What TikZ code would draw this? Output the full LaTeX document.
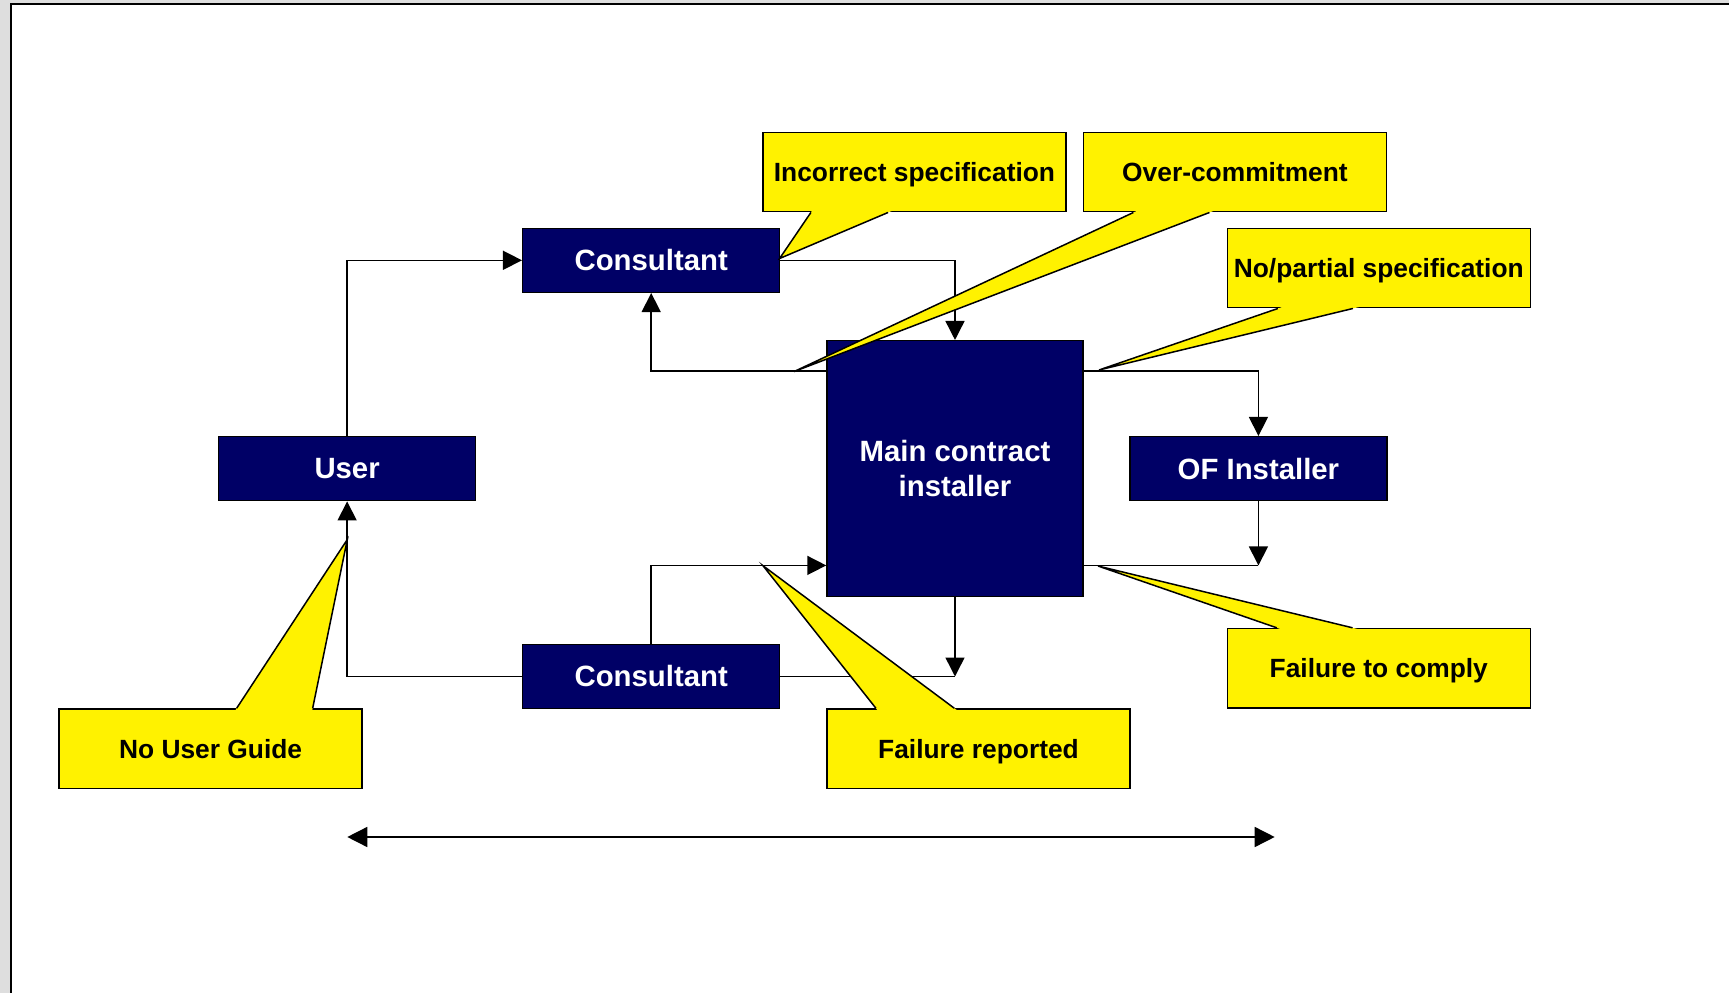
\documentclass[tikz,border=0pt]{standalone}
\usepackage{fontspec}
\setmainfont{Liberation Sans}
\usetikzlibrary{arrows.meta,positioning,calc}

\definecolor{navy}{HTML}{000066}
\definecolor{pagegray}{HTML}{DEDEDE}

\tikzset{
  actor/.style={draw=black, fill=navy, text=white, line width=0.03cm,
    font=\bfseries\fontsize{16.7}{20}\selectfont, align=center,
    minimum width=5.14cm, minimum height=1.28cm, inner sep=0pt},
  note/.style={draw=black, fill=yellow, text=black, line width=0.03cm,
    font=\bfseries\fontsize{15}{18}\selectfont, text depth=0pt,
    minimum width=6.06cm, minimum height=1.59cm, inner sep=0pt},
  flow/.style={-{Triangle[length=0.38cm,width=0.38cm]}, line width=0.03cm},
  link/.style={line width=0.03cm},
  span/.style={{Triangle[length=0.4cm,width=0.4cm]}-{Triangle[length=0.4cm,width=0.4cm]}, line width=0.03cm}
}

% yellow pointer of a note: base point, base point, tip
\newcommand{\pointer}[3]{%
  \fill[yellow] ($(#1)!-0.06!(#3)$) -- (#3) -- ($(#2)!-0.06!(#3)$) -- cycle;
  \draw[link] (#1) -- (#3) -- (#2);}

\begin{document}
\begin{tikzpicture}[x=0.02cm, y=-0.02cm]
	% page
	\fill[pagegray] (0,0) rectangle (1729,993);
	\useasboundingbox (0,0) rectangle (1729,993);
	\filldraw[fill=white, draw=black, line width=0.04cm] (11,4.3) rectangle (1780,1030);

	% the parties
	\node[actor, minimum width=5.12cm, minimum height=5.12cm] (main) at (955,468.7) {Main contract\\installer};
	\node[actor] (consTop) at (651.2,260.3) {Consultant};
	\node[actor] (consBot) at (651.2,676.5) {Consultant};
	\node[actor, left=7.0cm of main] (user) {User};
	\node[actor, right=0.91cm of main] (ofInst) {OF Installer};

	% points on the sides of the main box
	\coordinate (mainTL) at ($(main.north west)+(0,31)$);
	\coordinate (mainTR) at ($(main.north east)+(0,31)$);
	\coordinate (mainBL) at ($(main.south west)+(0,-32)$);
	\coordinate (mainBR) at ($(main.south east)+(0,-32)$);

	% flows between the parties
	\draw[flow] (user.north) |- (consTop.west);
	\draw[flow] (consTop.east) -| (main.north);
	\draw[flow] (mainTL) -| (consTop.south);
	\draw[flow] (mainTR) -| (ofInst.north);
	\draw[flow] (ofInst.south) -- (ofInst.south |- mainBR);
	\draw[link] (mainBR) -- (ofInst.south |- mainBR);
	\draw[flow] (consBot.north) |- (mainBL);
	\draw[flow] (main.south) -- (main.south |- consBot.east);
	\draw[link] (consBot.east) -- (main.south |- consBot.east);
	\draw[flow] (consBot.west) -| (user.south);

	% span arrow
	\coordinate (spanL) at (347.3,837);
	\coordinate (spanR) at (1274.7,837);
	\draw[span] (spanL) -- (spanR);

	% notes
	\node[note] (incSpec) at (914.5,172) {Incorrect specification};
	\coordinate (incA) at ($(incSpec.south west)+(48.6,0)$);
	\coordinate (incB) at ($(incSpec.south west)+(125.8,0)$);
	\coordinate (incTip) at (779.6,258.5);
	\pointer{incA}{incB}{incTip}

	\node[note] (overCom) at (1235,172) {Over-commitment};
	\coordinate (overA) at ($(overCom.south west)+(50.6,0)$);
	\coordinate (overB) at ($(overCom.south west)+(126.7,0)$);
	\coordinate (overTip) at (794,371.6);
	\pointer{overA}{overB}{overTip}

	\node[note] (noSpec) at (1378.8,268) {No/partial specification};
	\coordinate (noSpecA) at ($(noSpec.south west)+(51.3,0)$);
	\coordinate (noSpecB) at ($(noSpec.south west)+(126.3,0)$);
	\coordinate (noSpecTip) at (1099,370);
	\pointer{noSpecA}{noSpecB}{noSpecTip}

	\node[note] (failComp) at (1378.8,668.3) {Failure to comply};
	\coordinate (compA) at ($(failComp.north west)+(50.2,0)$);
	\coordinate (compB) at ($(failComp.north west)+(126,0)$);
	\coordinate (compTip) at (1098,566);
	\pointer{compA}{compB}{compTip}

	\node[note] (failRep) at (978.5,748.7) {Failure reported};
	\coordinate (repA) at ($(failRep.north west)+(49.6,0)$);
	\coordinate (repB) at ($(failRep.north west)+(128,0)$);
	\coordinate (repTip) at (763,565.7);
	\pointer{repA}{repB}{repTip}

	\node[note] (noGuide) at (210.6,748.7) {No User Guide};
	\coordinate (guideA) at ($(noGuide.north west)+(178.3,0)$);
	\coordinate (guideB) at ($(noGuide.north west)+(254.3,0)$);
	\coordinate (guideTip) at (347.3,539.5);
	\pointer{guideA}{guideB}{guideTip}
\end{tikzpicture}
\end{document}
